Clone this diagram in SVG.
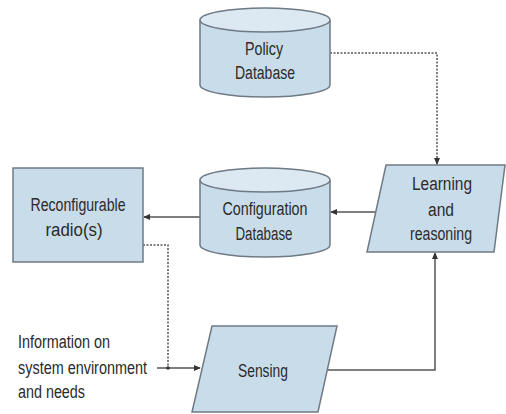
<svg xmlns="http://www.w3.org/2000/svg" width="506" height="414" viewBox="0 0 506 414">
<defs>
<marker id="ah" viewBox="0 0 8 8" refX="7" refY="4" markerWidth="7" markerHeight="7" markerUnits="userSpaceOnUse" orient="auto">
<path d="M0,0.5 L8,4 L0,7.5 Z" fill="#333"/>
</marker>
</defs>
<style>
.shape{fill:#c8dcea;stroke:#6f7a85;stroke-width:1.5}
.top{fill:#dde9f2;stroke:#6f7a85;stroke-width:1.5}
.t{font-family:"Liberation Sans",Arial,sans-serif;font-size:18px;fill:#2b2b2b;text-anchor:middle}
.tl{font-family:"Liberation Sans",Arial,sans-serif;font-size:18px;fill:#2b2b2b}
.solid{fill:none;stroke:#555;stroke-width:1.5}
.dot{fill:none;stroke:#555;stroke-width:1.5;stroke-dasharray:2 1.5}
</style>
<rect width="506" height="414" fill="#ffffff"/>
<g id="connectors">
<polyline class="dot" points="330,53 437,53 437,164" marker-end="url(#ah)"/>
<line class="solid" x1="375" y1="212" x2="331" y2="212" marker-end="url(#ah)"/>
<line class="solid" x1="200" y1="217" x2="144" y2="217" marker-end="url(#ah)"/>
<polyline class="dot" points="143,245 168,245 168,367"/>
<line class="solid" x1="157" y1="368" x2="200" y2="368" marker-end="url(#ah)"/>
<circle cx="168" cy="368" r="1.8" fill="#333"/>
<polyline class="solid" points="328,370 435,370 435,253" marker-end="url(#ah)"/>
</g>
<g id="policy-db">
<path class="shape" d="M200,20 L200,85 A65,12 0 0 0 330,85 L330,20"/>
<ellipse class="top" cx="265" cy="20" rx="65" ry="12"/>
<text class="t" x="264" y="55" textLength="38" lengthAdjust="spacingAndGlyphs">Policy</text>
<text class="t" x="265" y="79" textLength="60" lengthAdjust="spacingAndGlyphs">Database</text>
</g>
<g id="config-db">
<path class="shape" d="M200,180 L200,245 A65,12 0 0 0 330,245 L330,180"/>
<ellipse class="top" cx="265" cy="180" rx="65" ry="12"/>
<text class="t" x="265" y="215" textLength="85" lengthAdjust="spacingAndGlyphs">Configuration</text>
<text class="t" x="264" y="240" textLength="57" lengthAdjust="spacingAndGlyphs">Database</text>
</g>
<g id="radio">
<rect class="shape" x="13" y="168" width="130" height="94"/>
<text class="t" x="78" y="211" textLength="95" lengthAdjust="spacingAndGlyphs">Reconfigurable</text>
<text class="t" x="74" y="236" textLength="57" lengthAdjust="spacingAndGlyphs">radio(s)</text>
</g>
<g id="learning">
<polygon class="shape" points="386,165 505,165 494,252 367,252"/>
<text class="t" x="442" y="190" textLength="60" lengthAdjust="spacingAndGlyphs">Learning</text>
<text class="t" x="441" y="216" textLength="26" lengthAdjust="spacingAndGlyphs">and</text>
<text class="t" x="441" y="240" textLength="62" lengthAdjust="spacingAndGlyphs">reasoning</text>
</g>
<g id="sensing">
<polygon class="shape" points="212,326 337,326 318,412 192,412"/>
<text class="t" x="263" y="377" textLength="50" lengthAdjust="spacingAndGlyphs">Sensing</text>
</g>
<g id="info-label">
<text class="tl" x="18" y="348" textLength="92" lengthAdjust="spacingAndGlyphs">Information on</text>
<text class="tl" x="18" y="374" textLength="129" lengthAdjust="spacingAndGlyphs">system environment</text>
<text class="tl" x="18" y="398" textLength="67" lengthAdjust="spacingAndGlyphs">and needs</text>
</g>
</svg>
